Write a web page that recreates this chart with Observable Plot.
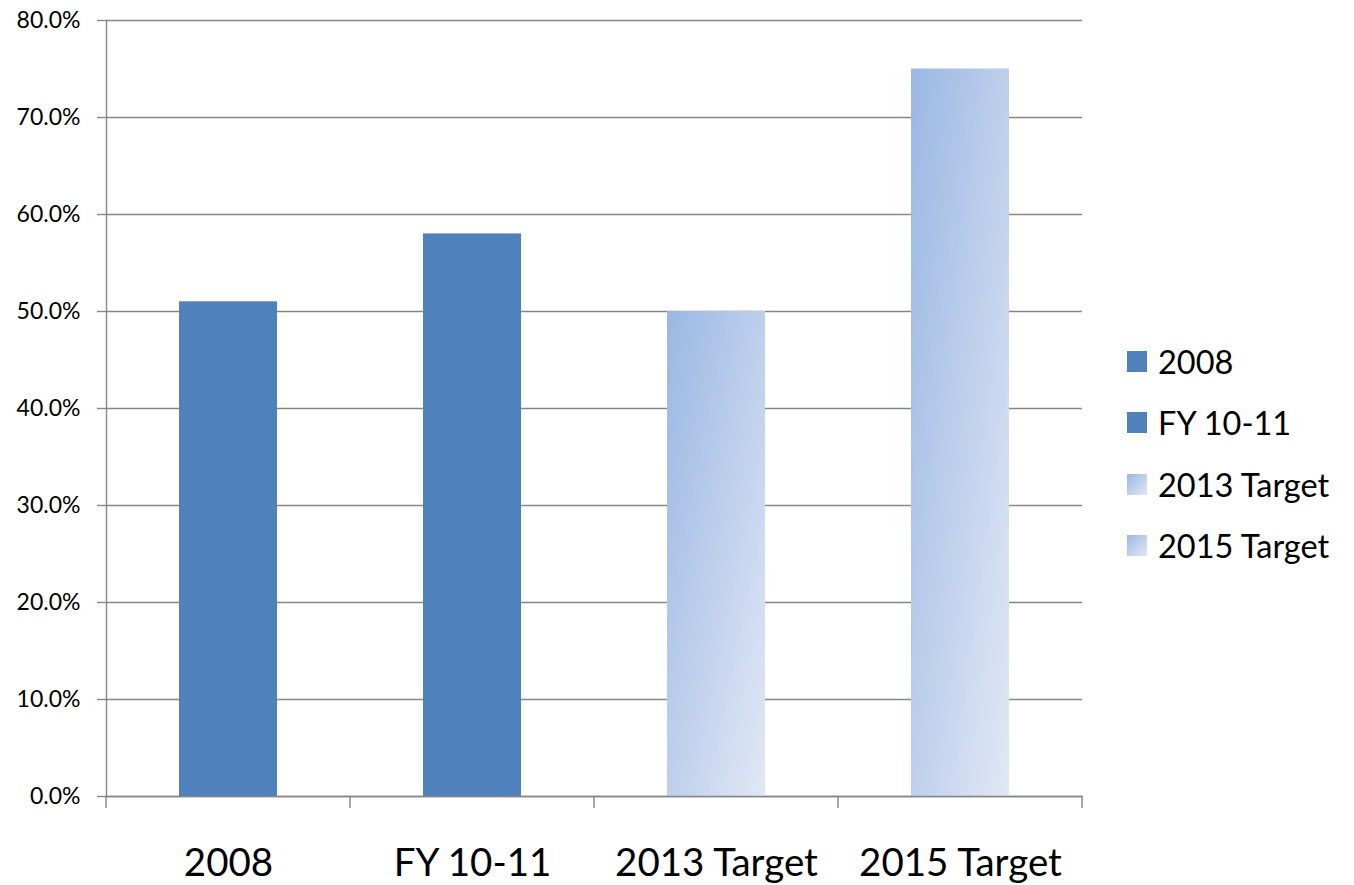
<!DOCTYPE html>
<html>
<head>
<meta charset="utf-8">
<script src="https://cdn.jsdelivr.net/npm/d3@7"></script>
<script src="https://cdn.jsdelivr.net/npm/@observablehq/plot@0.6"></script>
<style>
  html, body { margin: 0; padding: 0; background: #fff; }
  #wrap { position: relative; width: 1354px; height: 885px; font-family: Lato, "Open Sans", sans-serif; }
  #legend { position: absolute; left: 1127px; top: 331px; }
  .item { display: flex; align-items: center; height: 61.3px; font-size: 32.5px; color: #000; }
  .sw { width: 20px; height: 21px; margin-right: 11px; flex: none; }
</style>
</head>
<body>
<div id="wrap"></div>
<script>
const categories = ["2008", "FY 10-11", "2013 Target", "2015 Target"];
const values = [51.0, 58.0, 50.0, 75.0];
const kinds = ["Actual", "Actual", "Target", "Target"];
const yTicks = [0, 10, 20, 30, 40, 50, 60, 70, 80];

const data = categories.map((c, i) => ({category: c, value: values[i], kind: kinds[i]}));
const solid = "#4F81BD";
const gradStart = "#9BB7E3", gradEnd = "#E1E8F5";

const chart = Plot.plot({
  width: 1354,
  height: 885,
  marginLeft: 106,
  marginRight: 272,
  marginTop: 20,
  marginBottom: 89,
  style: {fontFamily: "Lato, 'Open Sans', sans-serif", background: "#fff"},
  x: {domain: categories, paddingInner: 0.6, paddingOuter: 0.3, label: null},
  y: {domain: [0, 80], label: null},
  marks: [
    Plot.ruleY(yTicks, {stroke: "#868686", strokeWidth: 1.4}),
    Plot.barY(data.filter(d => d.kind === "Actual"), {x: "category", y: "value", fill: solid}),
    Plot.barY(data.filter(d => d.kind === "Target"), {x: "category", y: "value", fill: "url(#tgtGrad)"}),
    Plot.axisY({ticks: yTicks, tickSize: 9, tickPadding: 17, stroke: "#868686", strokeWidth: 1.4,
      tickFormat: d => d.toFixed(1) + "%", fontSize: 23, fill: "#000", label: null}),
    Plot.axisX({tickSize: 0, tickPadding: 52, fontSize: 38.5, fill: "#000", label: null}),
    Plot.frame({anchor: "left", stroke: "#868686", strokeWidth: 1.4}),
    Plot.frame({anchor: "bottom", stroke: "#868686", strokeWidth: 1.4})
  ]
});

// gradient definition for target bars
const svg = d3.select(chart);
const defs = svg.insert("defs", ":first-child");
const g = defs.append("linearGradient").attr("id", "tgtGrad")
  .attr("x1", 0).attr("y1", 0).attr("x2", 1).attr("y2", 1);
g.append("stop").attr("offset", "0%").attr("stop-color", gradStart);
g.append("stop").attr("offset", "100%").attr("stop-color", gradEnd);

// category boundary ticks below the axis, derived from the band scale
const xs = chart.scale("x");
const ys = chart.scale("y");
const gap = (xs.step - xs.bandwidth) / 2;
const bounds = categories.map(c => xs.apply(c) - gap).concat([xs.apply(categories[categories.length - 1]) + xs.bandwidth + gap]);
const y0 = ys.apply(0);
svg.append("g").selectAll("line").data(bounds).join("line")
  .attr("x1", d => d).attr("x2", d => d)
  .attr("y1", y0).attr("y2", y0 + 12)
  .attr("stroke", "#868686").attr("stroke-width", 1.4);

const wrap = document.getElementById("wrap");
wrap.appendChild(chart);

// legend
const legend = document.createElement("div");
legend.id = "legend";
categories.forEach((c, i) => {
  const item = document.createElement("div");
  item.className = "item";
  const sw = document.createElement("span");
  sw.className = "sw";
  sw.style.background = kinds[i] === "Target" ? `linear-gradient(135deg, ${gradStart}, ${gradEnd})` : solid;
  const t = document.createElement("span");
  t.textContent = c;
  item.appendChild(sw);
  item.appendChild(t);
  legend.appendChild(item);
});
wrap.appendChild(legend);
</script>
</body>
</html>
